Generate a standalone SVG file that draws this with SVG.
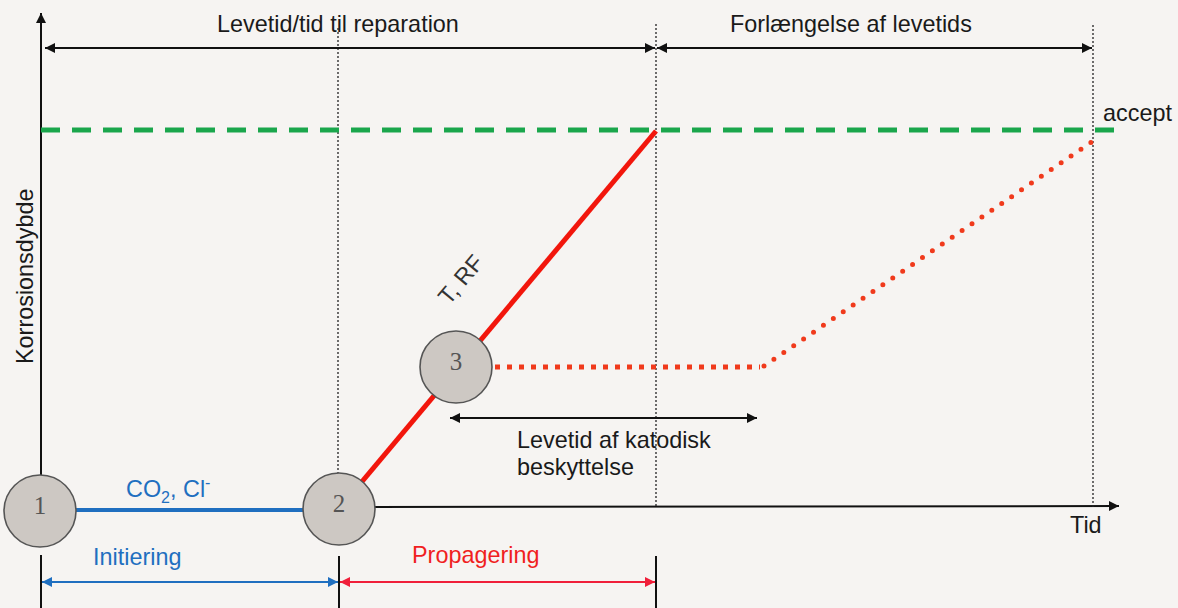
<svg xmlns="http://www.w3.org/2000/svg" width="1178" height="608" viewBox="0 0 1178 608">
<defs>
<style>
text{font-family:"Liberation Sans",Arial,sans-serif;font-size:23.4px;fill:#1a1a1a}
.blue{fill:#1f6fc0}
.red{fill:#f01f1f}
.num{font-family:"Liberation Serif","Times New Roman",serif;font-size:25px;fill:#555;text-anchor:middle}
.ax{stroke:#111;stroke-width:2;fill:none}
.vd{stroke:#222;stroke-width:1.3;stroke-dasharray:2 2;fill:none}
.node{fill:#cdc8c3;stroke:#555;stroke-width:1.6}
</style>
<marker id="ak" viewBox="0 0 10 10" refX="10" refY="5" markerWidth="12" markerHeight="10" markerUnits="userSpaceOnUse" orient="auto-start-reverse"><path d="M0,0L10,5L0,10z" fill="#111"/></marker>
<marker id="ab" viewBox="0 0 10 10" refX="10" refY="5" markerWidth="12" markerHeight="10" markerUnits="userSpaceOnUse" orient="auto-start-reverse"><path d="M0,0L10,5L0,10z" fill="#1f6fc0"/></marker>
<marker id="ar" viewBox="0 0 10 10" refX="10" refY="5" markerWidth="12" markerHeight="10" markerUnits="userSpaceOnUse" orient="auto-start-reverse"><path d="M0,0L10,5L0,10z" fill="#f01f3a"/></marker>
</defs>
<rect width="1178" height="608" fill="#f6f4f2"/>
<g id="connectors">
<line class="ax" x1="41" y1="475" x2="41" y2="13" marker-end="url(#ak)"/>
<line class="ax" x1="41" y1="555" x2="41" y2="608"/>
<line class="ax" x1="375" y1="507" x2="1119" y2="506" marker-end="url(#ak)"/>
<line class="vd" x1="338" y1="28" x2="338" y2="474"/>
<line class="vd" x1="656" y1="24" x2="656" y2="507"/>
<line class="vd" x1="1093" y1="25" x2="1093" y2="507"/>
<line class="ax" x1="45" y1="48" x2="655" y2="48" stroke-width="1.8" marker-start="url(#ak)" marker-end="url(#ak)"/>
<line class="ax" x1="657" y1="48" x2="1092" y2="48" stroke-width="1.8" marker-start="url(#ak)" marker-end="url(#ak)"/>
<line x1="41" y1="130" x2="1118" y2="130" stroke="#1aa64c" stroke-width="5" stroke-dasharray="19 12"/>
<line x1="339" y1="509" x2="656" y2="131" stroke="#f2160c" stroke-width="5"/>
<line x1="495" y1="367" x2="760" y2="367" stroke="#f03a1c" stroke-width="5" stroke-dasharray="5 7"/>
<line x1="764" y1="366" x2="1093" y2="141" stroke="#f03a1c" stroke-width="5" stroke-linecap="round" stroke-dasharray="0 12"/>
<line x1="76" y1="510" x2="303" y2="510" stroke="#1f6fc0" stroke-width="4"/>
<line class="ax" x1="450" y1="418" x2="757" y2="418" stroke-width="1.8" marker-start="url(#ak)" marker-end="url(#ak)"/>
<line class="ax" x1="339" y1="556" x2="339" y2="608"/>
<line class="ax" x1="656" y1="556" x2="656" y2="608"/>
<line x1="42" y1="582" x2="338" y2="582" stroke="#1f6fc0" stroke-width="1.8" marker-start="url(#ab)" marker-end="url(#ab)"/>
<line x1="340" y1="582" x2="655" y2="582" stroke="#f01f3a" stroke-width="1.8" marker-start="url(#ar)" marker-end="url(#ar)"/>
</g>
<g id="node1"><circle class="node" cx="40" cy="511" r="36"/><text class="num" x="40" y="514">1</text></g>
<g id="node2"><circle class="node" cx="339" cy="509" r="36"/><text class="num" x="339" y="512">2</text></g>
<g id="node3"><circle class="node" cx="456" cy="367" r="36"/><text class="num" x="456" y="370">3</text></g>
<g id="labels">
<text x="217" y="32">Levetid/tid til reparation</text>
<text x="730" y="32">Forlængelse af levetids</text>
<text x="1103" y="121">accept</text>
<text x="1070" y="533">Tid</text>
<text transform="translate(33,364) rotate(-90)">Korrosionsdybde</text>
<text transform="translate(449,306) rotate(-50)" style="fill:#333">T, RF</text>
<text x="517" y="448">Levetid af katodisk</text>
<text x="517" y="475">beskyttelse</text>
<text class="blue" x="126" y="497">CO<tspan font-size="16" dy="6">2</tspan><tspan dy="-6">, Cl</tspan><tspan font-size="16" dy="-9">-</tspan></text>
<text class="blue" x="93" y="565">Initiering</text>
<text class="red" x="412" y="563">Propagering</text>
</g>
</svg>
